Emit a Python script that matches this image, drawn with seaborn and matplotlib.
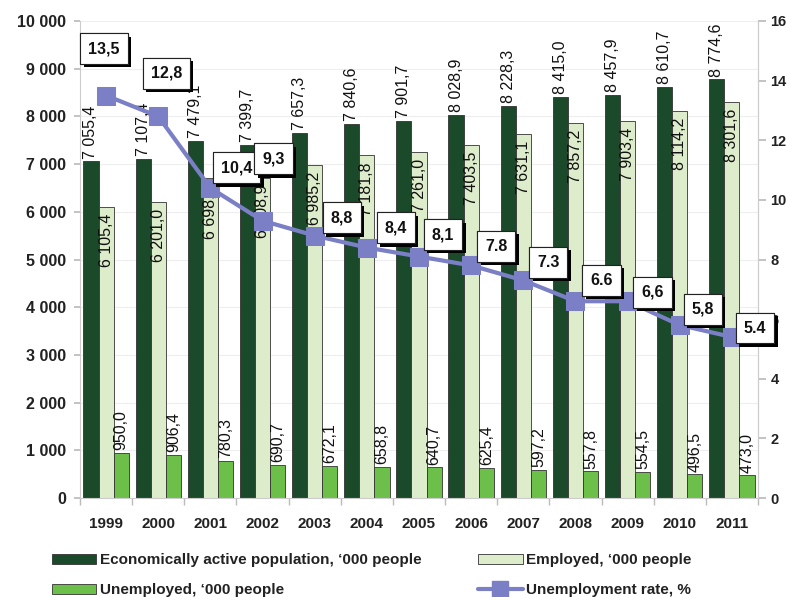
import numpy as np
import pandas as pd
import matplotlib
matplotlib.use("Agg")
import matplotlib.pyplot as plt
import matplotlib.patheffects as pe
from matplotlib.patches import Patch
from matplotlib.lines import Line2D
import seaborn as sns

years = ["1999", "2000", "2001", "2002", "2003", "2004", "2005",
         "2006", "2007", "2008", "2009", "2010", "2011"]
active = [7055.4, 7107.4, 7479.1, 7399.7, 7657.3, 7840.6, 7901.7,
          8028.9, 8228.3, 8415.0, 8457.9, 8610.7, 8774.6]
employed = [6105.4, 6201.0, 6698.8, 6708.9, 6985.2, 7181.8, 7261.0,
            7403.5, 7631.1, 7857.2, 7903.4, 8114.2, 8301.6]
unemployed = [950.0, 906.4, 780.3, 690.7, 672.1, 658.8, 640.7,
              625.4, 597.2, 557.8, 554.5, 496.5, 473.0]
rate = [13.5, 12.8, 10.4, 9.3, 8.8, 8.4, 8.1, 7.8, 7.3, 6.6, 6.6, 5.8, 5.4]
rate_labels = ["13,5", "12,8", "10,4", "9,3", "8,8", "8,4", "8,1",
               "7.8", "7.3", "6.6", "6,6", "5,8", "5.4"]

series_names = ["Economically active population, \u2018000 people",
                "Employed, \u2018000 people",
                "Unemployed, \u2018000 people"]
rate_name = "Unemployment rate, %"

# label offsets for the rate boxes (pixels right, pixels up)
box_offsets = [(-2, 47), (8, 43), (26, 20), (11, 62), (27, 18), (29, 20),
               (24, 22), (25, 19), (25, 18), (26, 21), (25, 9), (23, 16), (23, 9)]

colors = ["#1b4a2b", "#ddeccb", "#6cc04a"]
line_color = "#7a7fc6"

df = pd.DataFrame({
    "year": years * 3,
    "value": active + employed + unemployed,
    "series": [series_names[0]] * len(years) + [series_names[1]] * len(years)
              + [series_names[2]] * len(years),
})

sns.set_theme(style="white")
plt.rcParams["font.family"] = ["Liberation Sans", "DejaVu Sans"]

fig = plt.figure(figsize=(7.87, 5.97), dpi=100)
ax = fig.add_axes([80 / 787, 1 - 498 / 597, 678 / 787, 477 / 597])

sns.barplot(data=df, x="year", y="value", hue="series", palette=colors,
            width=0.87, ax=ax, edgecolor="#333333", linewidth=0.6,
            legend=False, saturation=1)

ax.set_ylim(0, 10000)
ax.set_xlim(-0.5, len(years) - 0.5)
ax.set_yticks(np.arange(0, 10001, 1000))
ax.set_yticklabels([f"{v:,}".replace(",", " ") for v in range(0, 10001, 1000)],
                   fontsize=11.5, fontweight="bold", color="#222222")
ax.set_xticks(range(len(years)))
ax.set_xticklabels(years, fontsize=11, fontweight="bold", color="#222222")
ax.tick_params(axis="x", length=0, pad=14)
ax.tick_params(axis="y", length=4, color="#bbbbbb", pad=6, left=True)
ax.set_xticks(np.arange(-0.5, len(years), 1), minor=True)
ax.tick_params(axis="x", which="minor", length=5, color="#bbbbbb", bottom=True)
ax.set_xlabel("")
ax.set_ylabel("")
ax.grid(axis="y", color="#eeeeee", linewidth=0.8)
ax.set_axisbelow(True)
ax.spines["top"].set_visible(False)
for side in ["left", "bottom", "right"]:
    ax.spines[side].set_color("#cccccc")
    ax.spines[side].set_linewidth(0.8)


def fmt(v):
    return f"{v:,.1f}".replace(",", " ").replace(".", ",")


# bar value labels
n = len(years)
patches = sorted(ax.patches, key=lambda p: p.get_x())
groups = [patches[i * 3:(i + 1) * 3] for i in range(n)]
for i in range(n):
    pa, pe_, pu = sorted(groups[i], key=lambda p: p.get_x())
    ax.annotate(fmt(active[i]), (pa.get_x() + pa.get_width() / 2, pa.get_height()),
                xytext=(0, 2), textcoords="offset points", rotation=90,
                ha="center", va="bottom", fontsize=11.5, color="#111111")
    ax.annotate(fmt(employed[i]), (pe_.get_x() + pe_.get_width() / 2, pe_.get_height()),
                xytext=(0, -5), textcoords="offset points", rotation=90,
                ha="center", va="top", fontsize=11.5, color="#111111")
    ax.annotate(fmt(unemployed[i]), (pu.get_x() + pu.get_width() / 2, pu.get_height()),
                xytext=(0, 2), textcoords="offset points", rotation=90,
                ha="center", va="bottom", fontsize=11.5, color="#111111")

ax2 = ax.twinx()
sns.lineplot(x=np.arange(n), y=rate, ax=ax2, color=line_color, linewidth=3,
             marker="s", markersize=13, markeredgecolor=line_color, legend=False)
ax2.set_ylim(0, 16)
ax2.set_xlim(-0.5, n - 0.5)
ax2.set_yticks(np.arange(0, 17, 2))
ax2.set_yticklabels([str(v) for v in range(0, 17, 2)], fontsize=10.5,
                    fontweight="bold", color="#222222")
ax2.tick_params(axis="y", length=6, color="#bbbbbb", pad=3, right=True)
ax2.grid(False)
for side in ["top", "left", "bottom"]:
    ax2.spines[side].set_visible(False)
ax2.spines["right"].set_color("#cccccc")
ax2.spines["right"].set_linewidth(0.8)

for i in range(n):
    dx, dy = box_offsets[i]
    t = ax2.annotate(rate_labels[i], (i, rate[i]),
                     xytext=(dx * 0.72, dy * 0.72), textcoords="offset points",
                     ha="center", va="center", fontsize=11.5, fontweight="bold",
                     color="#111111", zorder=10,
                     bbox=dict(boxstyle="square,pad=0.5", fc="white",
                               ec="#222222", lw=0.8))
    t.get_bbox_patch().set_path_effects(
        [pe.withSimplePatchShadow(offset=(2.5, -2.5), shadow_rgbFace="black",
                                  alpha=1.0), pe.Normal()])

handles = [
    Patch(facecolor=colors[0], edgecolor="#333333", linewidth=0.6, label=series_names[0]),
    Patch(facecolor=colors[2], edgecolor="#333333", linewidth=0.6, label=series_names[2]),
    Patch(facecolor=colors[1], edgecolor="#333333", linewidth=0.6, label=series_names[1]),
    Line2D([0], [0], color=line_color, linewidth=3, marker="s", markersize=11,
           label=rate_name),
]
leg = fig.legend(handles=handles, ncol=2, loc="upper left",
                 bbox_to_anchor=(52 / 787, 1 - 553 / 597), frameon=False,
                 prop={"weight": "bold", "size": 11}, handlelength=2.9,
                 handleheight=0.65, handletextpad=0.25, columnspacing=3.7,
                 labelspacing=1.05, borderaxespad=0, borderpad=0)
for txt in leg.get_texts():
    txt.set_color("#222222")

fig.savefig("out.png", dpi=100)
